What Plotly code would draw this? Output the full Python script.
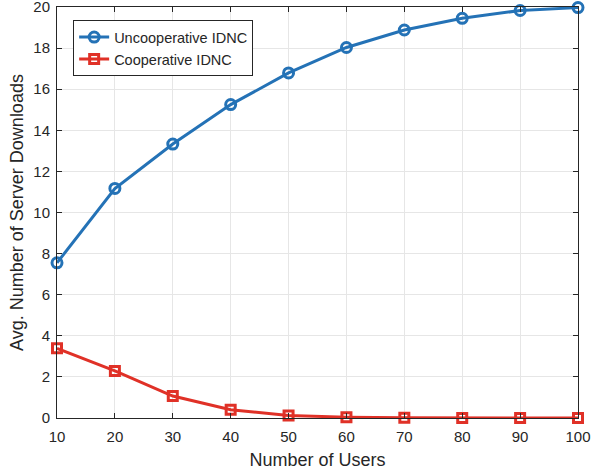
import plotly.graph_objects as go

users = [10, 20, 30, 40, 50, 60, 70, 80, 90, 100]
uncoop = [7.55, 11.17, 13.33, 15.25, 16.79, 18.03, 18.88, 19.45, 19.83, 19.97]
coop = [3.39, 2.29, 1.07, 0.40, 0.12, 0.04, 0.01, 0.0, 0.0, 0.0]
yticks = [0, 2, 4, 6, 8, 10, 12, 14, 16, 18, 20]

fig = go.Figure()
fig.add_trace(go.Scatter(
    x=users, y=uncoop, mode="lines+markers", name="Uncooperative IDNC",
    line=dict(color="#2472B6", width=3),
    marker=dict(symbol="circle-open", size=10, color="#2472B6", line=dict(width=3)),
    cliponaxis=False,
))
fig.add_trace(go.Scatter(
    x=users, y=coop, mode="lines+markers", name="Cooperative IDNC",
    line=dict(color="#E03127", width=3),
    marker=dict(symbol="square-open", size=9, color="#E03127", line=dict(width=3)),
    cliponaxis=False,
))

axis_common = dict(
    showgrid=True, gridcolor="#E6E6E6", gridwidth=1,
    showline=True, linecolor="#262626", linewidth=1, mirror="ticks",
    ticks="inside", ticklen=5, tickcolor="#262626",
    tickfont=dict(family="Liberation Sans, Arial, sans-serif", size=15, color="#262626"),
    zeroline=False, automargin=False, ticklabeloverflow="allow",
)

fig.update_layout(
    width=591, height=470,
    margin=dict(l=57, r=13, t=7, b=52),
    paper_bgcolor="white", plot_bgcolor="white",
    font=dict(family="Liberation Sans, Arial, sans-serif", size=15, color="#262626"),
    xaxis=dict(range=[10, 100], tickvals=users, ticklabelstandoff=5,
               title=dict(text="Number of Users", standoff=10), **axis_common),
    yaxis=dict(range=[0, 20], tickvals=yticks, ticklabelstandoff=3,
               title=dict(text="Avg. Number of Server Downloads", standoff=5), **axis_common),
    legend=dict(x=0.031, y=0.968, xanchor="left", yanchor="top",
                bgcolor="white", bordercolor="#262626", borderwidth=1,
                font=dict(size=14.5), tracegroupgap=0, itemwidth=30),
    showlegend=True,
)

fig.write_html("out.html", config={"displayModeBar": False},
               post_script="document.body.style.margin='0';document.body.style.padding='0';")
